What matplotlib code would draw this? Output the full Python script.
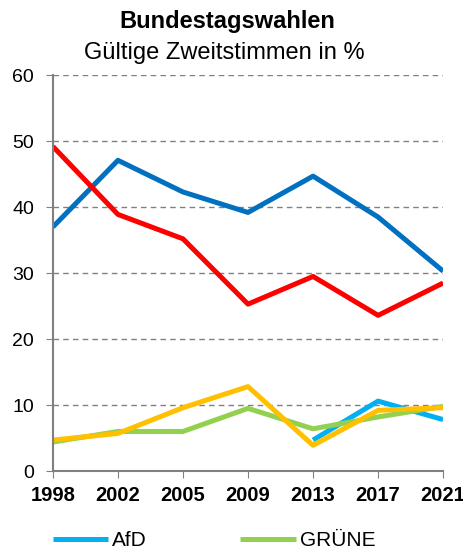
import numpy as np
import matplotlib.pyplot as plt

plt.rcParams['font.family'] = ['Liberation Sans', 'DejaVu Sans']

# Wahljahre und Zweitstimmen in %
jahre = ['1998', '2002', '2005', '2009', '2013', '2017', '2021']
cdu = [37.0, 47.1, 42.3, 39.2, 44.7, 38.5, 30.3]
spd = [49.2, 38.9, 35.2, 25.3, 29.5, 23.6, 28.5]
afd = [np.nan, np.nan, np.nan, np.nan, 4.7, 10.6, 7.8]
gruene = [4.4, 6.0, 6.0, 9.5, 6.4, 8.2, 9.8]
fdp = [4.7, 5.7, 9.6, 12.8, 3.9, 9.2, 9.6]

fig = plt.figure(figsize=(4.64, 5.49), dpi=100)
ax = fig.add_axes([0.114, 0.142, 0.841, 0.721])

x = np.arange(len(jahre))
lw = 3.6
ax.plot(x, cdu, color='#0070C0', lw=lw, solid_capstyle='butt')
ax.plot(x, spd, color='#FF0000', lw=lw, solid_capstyle='butt')
l_afd, = ax.plot(x, afd, color='#00B0F0', lw=lw, solid_capstyle='butt')
l_gr, = ax.plot(x, gruene, color='#92D050', lw=lw, solid_capstyle='butt')
ax.plot(x, fdp, color='#FFC000', lw=lw, solid_capstyle='butt')

ax.set_xlim(0, len(jahre) - 1)
ax.set_ylim(0, 60)
ax.set_yticks(range(0, 61, 10))
ax.set_xticks(x)
ax.set_xticklabels(jahre, fontweight='bold', fontsize=14.5)
ax.tick_params(axis='y', labelsize=14, length=5, color='#808080', pad=8.5)
ax.tick_params(axis='x', length=5, color='#808080', pad=6)

ax.grid(axis='y', color='#808080', linestyle=(0, (4, 3)), lw=1)
ax.set_axisbelow(True)
for s in ['top', 'right']:
    ax.spines[s].set_visible(False)
for s in ['left', 'bottom']:
    ax.spines[s].set_color('#808080')
    ax.spines[s].set_linewidth(1.5)

fig.text(0.49, 0.96, 'Bundestagswahlen', ha='center', va='center',
         fontsize=17, fontweight='bold')
fig.text(0.483, 0.903, 'Gültige Zweitstimmen in %', ha='center', va='center',
         fontsize=17)

fig.legend([l_afd, l_gr], ['AfD', 'GRÜNE'], ncol=2, loc='lower left',
           bbox_to_anchor=(0.073, -0.036), frameon=False, fontsize=15,
           handlelength=2.65, handletextpad=0.2, columnspacing=4.5)

fig.savefig('out.png', dpi=100)
